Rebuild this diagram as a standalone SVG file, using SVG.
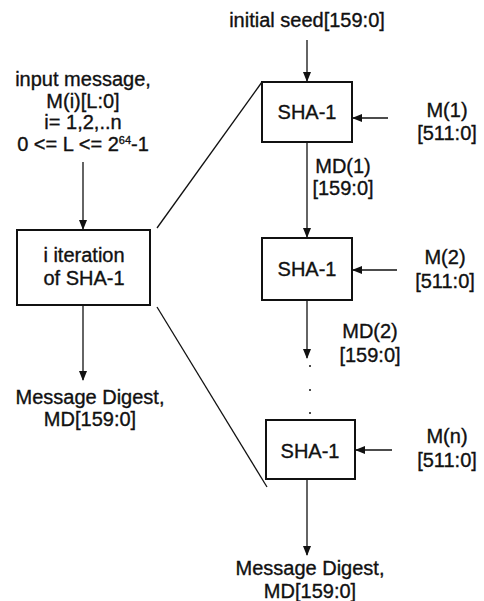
<svg xmlns="http://www.w3.org/2000/svg" width="484" height="601" viewBox="0 0 484 601">
<style>
text{font-family:"Liberation Sans",Arial,sans-serif;font-size:20px;fill:#111;stroke:#111;stroke-width:0.35;text-anchor:middle}
.box{fill:#fff;stroke:#111;stroke-width:2}
.ln{stroke:#111;stroke-width:1.3;fill:none}
</style>
<defs>
<marker id="ah" markerWidth="10" markerHeight="10" refX="9" refY="5" orient="auto" markerUnits="userSpaceOnUse">
<path d="M0,1 L10,5 L0,9 Z" fill="#111"/>
</marker>
</defs>
<rect width="484" height="601" fill="#fff"/>
<g id="connectors">
<line class="ln" x1="83" y1="162" x2="83" y2="229" marker-end="url(#ah)"/>
<line class="ln" x1="83" y1="305" x2="83" y2="380" marker-end="url(#ah)"/>
<line class="ln" x1="157" y1="228" x2="262" y2="82"/>
<line class="ln" x1="157" y1="307" x2="267" y2="487"/>
<line class="ln" x1="307" y1="40" x2="307" y2="81" marker-end="url(#ah)"/>
<line class="ln" x1="388" y1="118" x2="353" y2="118" marker-end="url(#ah)"/>
<line class="ln" x1="307" y1="142" x2="307" y2="237" marker-end="url(#ah)"/>
<line class="ln" x1="397" y1="270" x2="353" y2="270" marker-end="url(#ah)"/>
<line class="ln" x1="307" y1="300" x2="307" y2="358" marker-end="url(#ah)"/>
<line class="ln" x1="392" y1="450" x2="356" y2="450" marker-end="url(#ah)"/>
<line class="ln" x1="307" y1="479" x2="307" y2="555" marker-end="url(#ah)"/>
<circle cx="310" cy="366" r="1" fill="#111"/>
<circle cx="310" cy="390" r="1" fill="#111"/>
<circle cx="310" cy="413" r="1" fill="#111"/>
</g>
<g id="input-label">
<text x="83" y="86">input message,</text>
<text x="83" y="108">M(i)[L:0]</text>
<text x="83" y="129">i= 1,2,..n</text>
<text x="83" y="151">0 &lt;= L &lt;= 2<tspan font-size="11" dy="-7">64</tspan><tspan dy="7">-1</tspan></text>
</g>
<g id="iter">
<rect class="box" x="17" y="230" width="133" height="75"/>
<text x="84" y="262">i iteration</text>
<text x="84" y="285">of SHA-1</text>
</g>
<g id="md-left">
<text x="90" y="404">Message Digest,</text>
<text x="90" y="426">MD[159:0]</text>
</g>
<g id="seed"><text x="307" y="27">initial seed[159:0]</text></g>
<g id="sha1">
<rect class="box" x="262" y="82" width="90" height="60"/>
<text x="307" y="119">SHA-1</text>
</g>
<g id="m1"><text x="447" y="117">M(1)</text><text x="447" y="140">[511:0]</text></g>
<g id="md1"><text x="343" y="173">MD(1)</text><text x="343" y="195">[159:0]</text></g>
<g id="sha2">
<rect class="box" x="262" y="238" width="90" height="62"/>
<text x="307" y="276">SHA-1</text>
</g>
<g id="m2"><text x="445" y="264">M(2)</text><text x="445" y="288">[511:0]</text></g>
<g id="md2"><text x="370" y="338">MD(2)</text><text x="370" y="362">[159:0]</text></g>
<g id="shan">
<rect class="box" x="266" y="420" width="89" height="59"/>
<text x="310" y="458">SHA-1</text>
</g>
<g id="mn"><text x="447" y="443">M(n)</text><text x="447" y="467">[511:0]</text></g>
<g id="md-right">
<text x="310" y="575">Message Digest,</text>
<text x="310" y="598">MD[159:0]</text>
</g>
</svg>
